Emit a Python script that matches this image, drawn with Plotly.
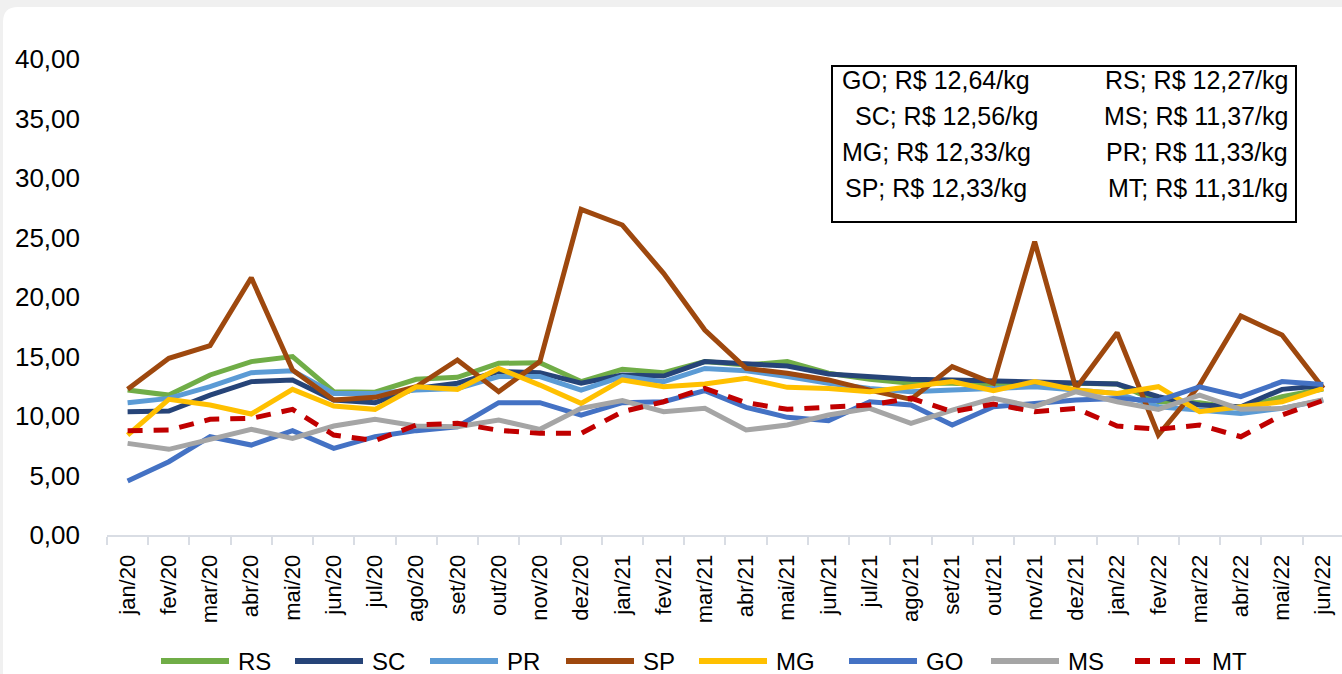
import plotly.graph_objects as go

months = ["jan/20", "fev/20", "mar/20", "abr/20", "mai/20", "jun/20", "jul/20", "ago/20", "set/20", "out/20", "nov/20", "dez/20",
          "jan/21", "fev/21", "mar/21", "abr/21", "mai/21", "jun/21", "jul/21", "ago/21", "set/21", "out/21", "nov/21", "dez/21",
          "jan/22", "fev/22", "mar/22", "abr/22", "mai/22", "jun/22"]

RS = [12.18, 11.76, 13.45, 14.57, 14.99, 12.04, 12.00, 13.08, 13.25, 14.43, 14.48, 12.89,
      13.92, 13.64, 14.57, 14.29, 14.57, 13.59, 13.08, 12.75, 12.75, 12.60, 12.50, 12.75,
      12.69, 11.20, 11.12, 10.64, 11.62, 12.27]
SC = [10.36, 10.42, 11.76, 12.89, 13.03, 11.34, 11.12, 12.32, 12.75, 13.73, 13.64, 12.75,
      13.45, 13.36, 14.57, 14.37, 14.20, 13.53, 13.31, 13.08, 13.03, 12.97, 12.89, 12.83,
      12.69, 11.62, 10.92, 10.78, 12.24, 12.56]
PR = [11.12, 11.48, 12.46, 13.64, 13.81, 11.90, 11.90, 12.18, 12.32, 13.31, 13.31, 12.18,
      13.31, 12.89, 14.00, 13.81, 13.31, 12.75, 12.32, 12.04, 12.18, 12.32, 12.46, 12.18,
      11.90, 10.78, 10.50, 10.22, 10.64, 11.33]
SP = [12.24, 14.85, 15.91, 21.62, 13.87, 11.34, 11.57, 12.46, 14.71, 12.04, 14.57, 27.37,
      26.05, 21.99, 17.23, 14.00, 13.59, 13.03, 12.18, 11.40, 14.15, 12.75, 24.65, 12.32,
      17.00, 8.40, 12.60, 18.40, 16.80, 12.33]
MG = [8.40, 11.40, 10.92, 10.17, 12.24, 10.84, 10.56, 12.46, 12.24, 14.00, 12.60, 11.06,
      13.03, 12.46, 12.69, 13.17, 12.41, 12.32, 12.04, 12.46, 12.89, 12.13, 12.89, 12.18,
      11.90, 12.46, 10.36, 10.78, 11.20, 12.33]
GO = [4.54, 6.16, 8.26, 7.56, 8.77, 7.28, 8.26, 8.77, 9.10, 11.12, 11.12, 10.08,
      11.12, 11.20, 12.13, 10.73, 9.89, 9.61, 11.20, 10.92, 9.24, 10.78, 11.06, 11.34,
      11.48, 11.29, 12.46, 11.62, 12.89, 12.64]
MS = [7.70, 7.20, 8.04, 8.88, 8.12, 9.16, 9.72, 9.16, 9.10, 9.66, 8.88, 10.64,
      11.29, 10.36, 10.64, 8.82, 9.24, 10.08, 10.64, 9.38, 10.50, 11.48, 10.78, 12.04,
      11.20, 10.56, 11.76, 10.56, 10.64, 11.37]
MT = [8.77, 8.82, 9.72, 9.80, 10.56, 8.40, 7.93, 9.24, 9.38, 8.80, 8.54, 8.54,
      10.36, 11.20, 12.32, 11.12, 10.56, 10.73, 10.92, 11.50, 10.36, 11.00, 10.36, 10.64,
      9.16, 8.88, 9.24, 8.26, 10.08, 11.31]

series_names = ["RS", "SC", "PR", "SP", "MG", "GO", "MS", "MT"]
series_values = [RS, SC, PR, SP, MG, GO, MS, MT]
colors = ["#70ad47", "#264478", "#5b9bd5", "#9e480e", "#ffc000", "#4472c4", "#a5a5a5", "#c00000"]
dashes = ["solid"] * 7 + ["15px,11px"]

box_left = ["GO; R$ 12,64/kg", "SC; R$ 12,56/kg", "MG; R$ 12,33/kg", "SP; R$ 12,33/kg"]
box_right = ["RS; R$ 12,27/kg", "MS; R$ 11,37/kg", "PR; R$ 11,33/kg", "MT; R$ 11,31/kg"]

W, H = 1342, 674
L, T, B = 107, 59, 535   # plot area pixel edges
PW, PH = W - L, B - T
CAT_W = 41.23
FONT = "Liberation Sans"


def px(x):
    return (x - L) / PW


def py(y):
    return (B - y) / PH


fig = go.Figure()
for name, vals, col, dsh in zip(series_names, series_values, colors, dashes):
    fig.add_trace(go.Scatter(x=months, y=vals, mode="lines", name=name, showlegend=False,
                             line=dict(color=col, width=5, dash=dsh)))

shapes = []
# white rounded card
x0, x1, yt, yb = px(3), px(1360), py(7), py(690)
rx, ry = 15 / PW, 15 / PH
shapes.append(dict(type="path", xref="paper", yref="paper", layer="below",
                   path=f"M{x0},{yb} L{x0},{yt - ry} Q{x0},{yt} {x0 + rx},{yt} L{x1},{yt} L{x1},{yb} Z",
                   fillcolor="white", line=dict(width=0)))
# text box
shapes.append(dict(type="rect", xref="paper", yref="paper", x0=px(832), x1=px(1296), y0=py(222), y1=py(66),
                   line=dict(color="black", width=2), fillcolor="white", layer="above"))

annotations = []
left_x = [840, 853, 840, 843]
line_y = [80, 116, 152, 188]
for txt, lx, ly in zip(box_left, left_x, line_y):
    annotations.append(dict(text=txt, xref="paper", yref="paper", x=px(lx), y=py(ly), xanchor="left",
                            yanchor="middle", showarrow=False, font=dict(family=FONT, size=25, color="black")))
for txt, ly in zip(box_right, line_y):
    annotations.append(dict(text=txt, xref="paper", yref="paper", x=px(1290), y=py(ly), xanchor="right",
                            yanchor="middle", showarrow=False, font=dict(family=FONT, size=25, color="black")))

# custom legend
leg_x = [159, 293, 428, 564, 697, 847, 989, 1133]
leg_y = 661
for name, col, dsh, lx in zip(series_names, colors, dashes, leg_x):
    if dsh == "solid":
        shapes.append(dict(type="line", xref="paper", yref="paper", x0=px(lx + 2), x1=px(lx + 70),
                           y0=py(leg_y), y1=py(leg_y), line=dict(color=col, width=6)))
    else:
        for k in range(3):
            shapes.append(dict(type="line", xref="paper", yref="paper", x0=px(lx + 2 + 25 * k),
                               x1=px(lx + 17 + 25 * k), y0=py(leg_y), y1=py(leg_y),
                               line=dict(color=col, width=6)))
    annotations.append(dict(text=name, xref="paper", yref="paper", x=px(lx + 77), y=py(leg_y),
                            xanchor="left", yanchor="middle", showarrow=False,
                            font=dict(family=FONT, size=24, color="black")))

fig.update_layout(
    width=W, height=H,
    margin=dict(l=L, r=0, t=T, b=H - B, pad=0),
    paper_bgcolor="#f0f0f0", plot_bgcolor="white",
    separators=",.",
    showlegend=False,
    shapes=shapes, annotations=annotations,
    xaxis=dict(type="category", categoryorder="array", categoryarray=months,
               range=[-0.5, 29.5 - (L + 30 * CAT_W - W) / CAT_W],
               tickangle=-90, tickson="boundaries", ticks="outside", ticklen=8, tickwidth=2,
               tickcolor="#d9dde4", showline=True, linecolor="#d9dde4", linewidth=2,
               showgrid=False, zeroline=False, ticklabelstandoff=9,
               tickfont=dict(family=FONT, size=22, color="black")),
    yaxis=dict(range=[0, 40], dtick=5, tickformat=".2f", showgrid=False, zeroline=False,
               showline=False, ticks="", ticklabelstandoff=26,
               tickfont=dict(family=FONT, size=26, color="black")),
)

fig.write_html("out.html", config={"displayModeBar": False},
               post_script="document.body.style.margin='0';document.body.style.overflow='hidden';")
